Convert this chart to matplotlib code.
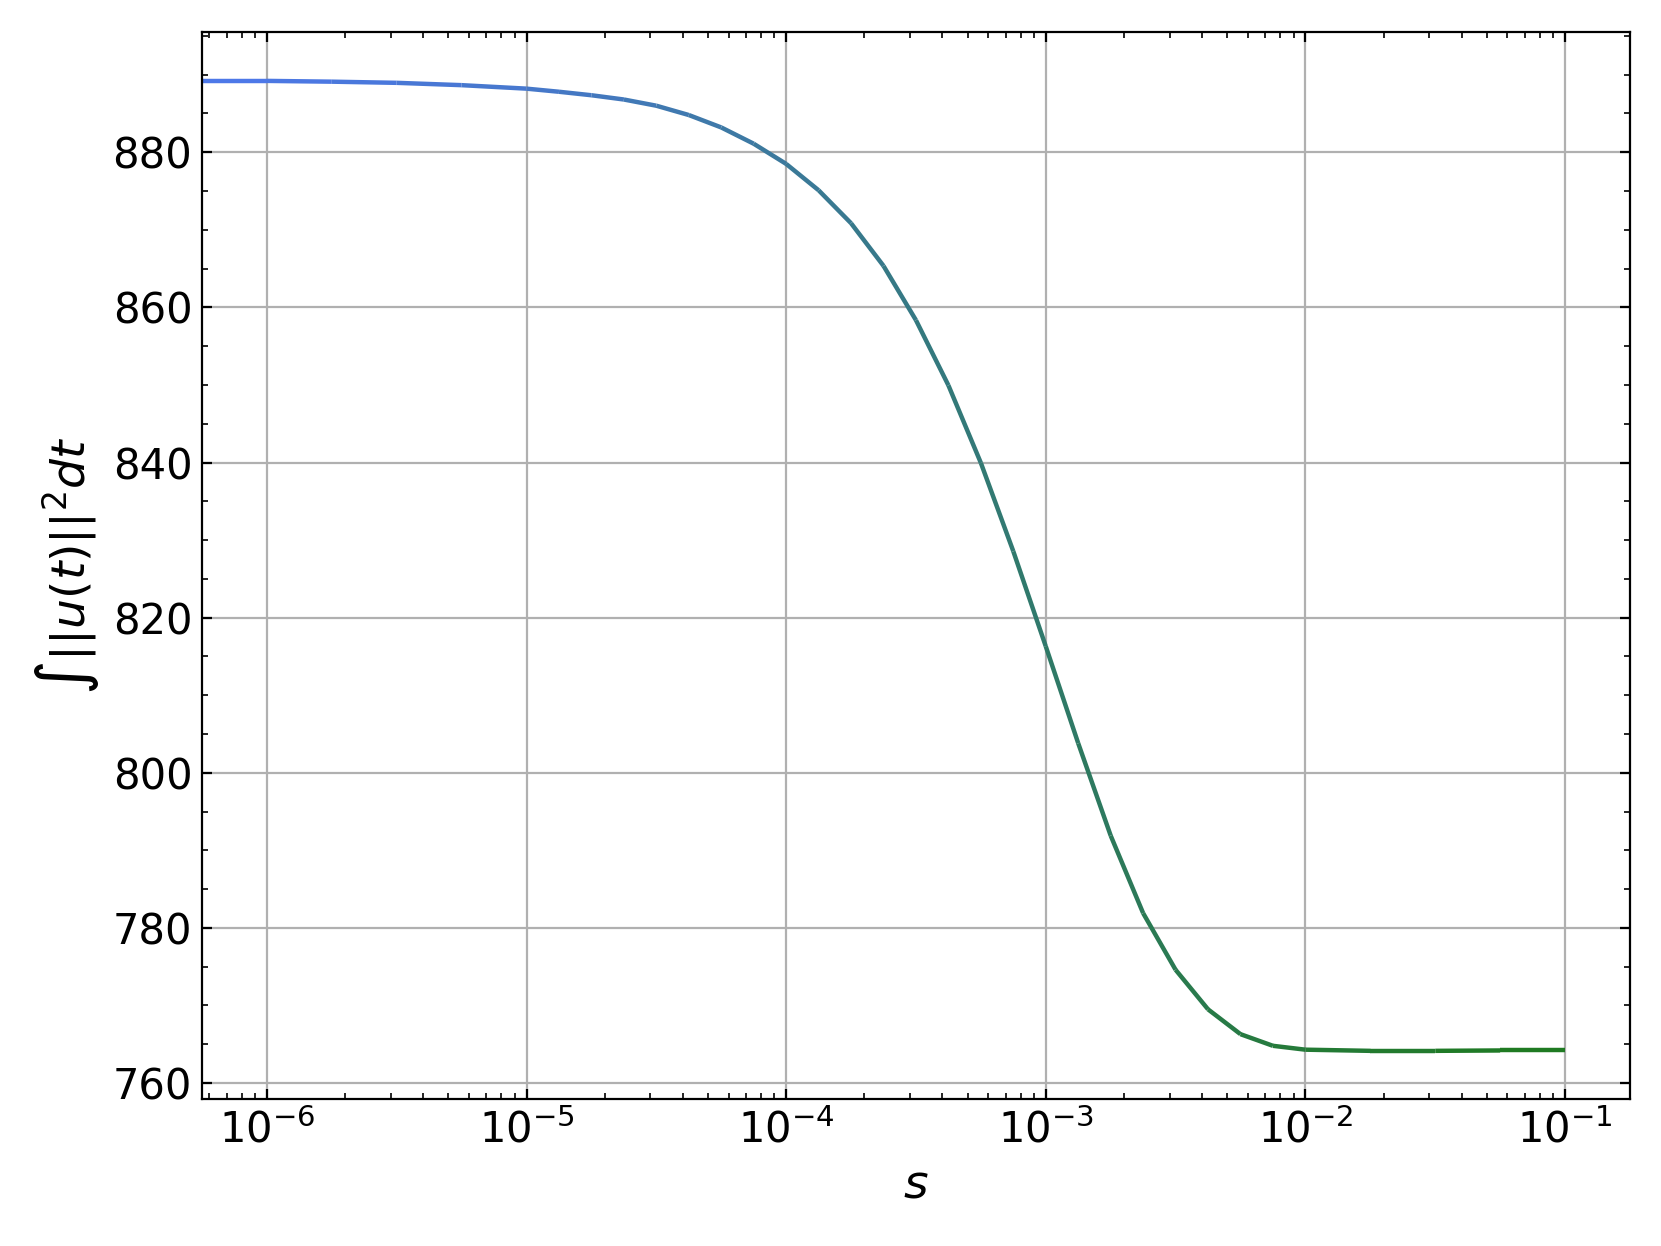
import numpy as np
import matplotlib
matplotlib.use("Agg")
import matplotlib.pyplot as plt
from matplotlib.collections import LineCollection
from matplotlib.colors import LinearSegmentedColormap
from matplotlib.ticker import AutoMinorLocator

# values (s on a log axis, first point s=0)
log_s = [-6.0, -5.75, -5.5, -5.25, -5.0, -4.875, -4.75, -4.625, -4.5, -4.375,
         -4.25, -4.125, -4.0, -3.875, -3.75, -3.625, -3.5, -3.375, -3.25,
         -3.125, -3.0, -2.875, -2.75, -2.625, -2.5, -2.375, -2.25, -2.125,
         -2.0, -1.75, -1.5, -1.25, -1.0]
energy = [889.2, 889.1, 888.95, 888.65, 888.2, 887.8, 887.35, 886.8, 886.0, 884.8,
          883.2, 881.1, 878.5, 875.1, 870.85, 865.35, 858.35, 849.95, 839.95,
          828.55, 816.3, 803.8, 791.9, 781.9, 774.6, 769.5, 766.3, 764.8,
          764.3, 764.15, 764.15, 764.2, 764.2]

s_values = [0.0] + [10.0 ** v for v in log_s]
energy = [energy[0]] + energy

fig, ax = plt.subplots(figsize=(1661 / 200, 1246 / 200), dpi=200)
fig.subplots_adjust(left=0.1216, right=0.9813, top=0.974, bottom=0.1177)

ax.set_xscale("log")

# gradient line, blue -> green
pts = np.column_stack([s_values, energy]).reshape(-1, 1, 2)
segs = np.concatenate([pts[:-1], pts[1:]], axis=1)
cmap = LinearSegmentedColormap.from_list("bg", ["#4d78e8", "#1f7a22"])
lc = LineCollection(segs, colors=cmap(np.linspace(0, 1, len(segs))), linewidth=1.6)
ax.add_collection(lc)

ax.set_xlim(1e-6 / 10**0.25, 1e-1 * 10**0.25)
ax.set_ylim(min(energy) - 0.05 * (max(energy) - min(energy)),
            max(energy) + 0.05 * (max(energy) - min(energy)))
ax.set_yticks([760, 780, 800, 820, 840, 860, 880])
ax.yaxis.set_minor_locator(AutoMinorLocator())

ax.grid(True, color="#b0b0b0", linewidth=0.8)
ax.tick_params(which="both", direction="in", top=True, right=True, labelsize=15)
ax.tick_params(which="major", length=3.5)
ax.tick_params(which="minor", length=2)

ax.set_xlabel(r"$s$", fontsize=17)
ax.set_ylabel(r"$\int ||u(t)||^2 dt$", fontsize=17)

fig.savefig("out.png", dpi=200)
